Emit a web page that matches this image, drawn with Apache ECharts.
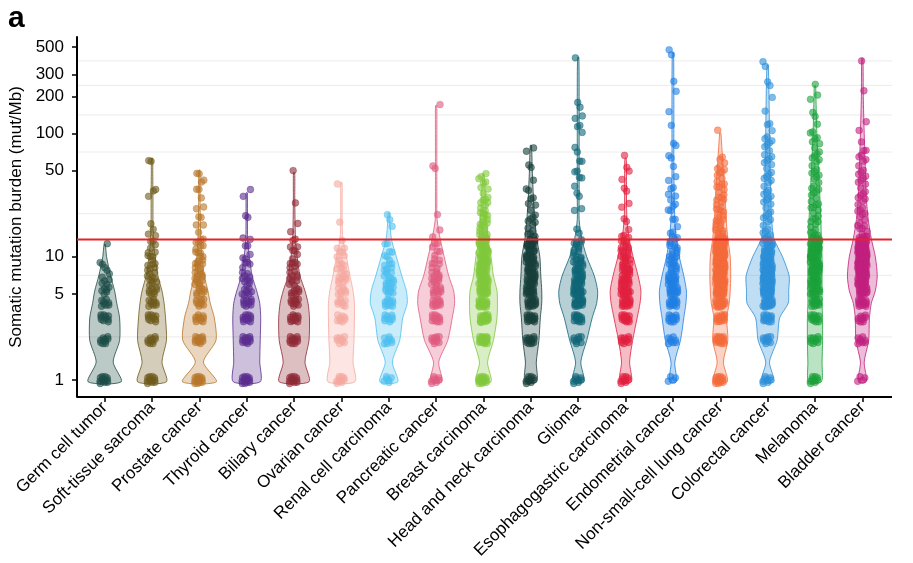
<!DOCTYPE html>
<html><head><meta charset="utf-8">
<script src="https://cdn.jsdelivr.net/npm/echarts@6/dist/echarts.min.js"></script>
<style>html,body{margin:0;padding:0;background:#fff}#chart{width:913px;height:563px}</style>
</head><body><div id="chart"></div>
<script>
const categories = ['Germ cell tumor','Soft-tissue sarcoma','Prostate cancer','Thyroid cancer','Biliary cancer','Ovarian cancer','Renal cell carcinoma','Pancreatic cancer','Breast carcinoma','Head and neck carcinoma','Glioma','Esophagogastric carcinoma','Endometrial cancer','Non-small-cell lung cancer','Colorectal cancer','Melanoma','Bladder cancer'];
const pointColors = ['#1d4d47','#6e5a1c','#b8762a','#5a2d8f','#8f2a36','#f5a9a0','#4dbff0','#e05a7e','#80c83c','#173f3b','#0f6577','#e1203f','#1f7fe3','#f36a3b','#2c8fd8','#1ba23a','#c1207f'];
const yTickValues = [1, 5, 10, 50, 100, 200, 300, 500];
const gridValues = [2.24, 7.07, 22.4, 70.7, 141, 245, 387];
const threshold = 13.8;
// discrete low values (mut/Mb) and number of samples at each
const levels = [1, 2.1, 3.15, 4.2, 5.25, 6.3, 7.35, 8.4, 9.45, 10.5, 11.55, 12.6, 13.65];
const levelCounts = [
  [12,10,10,8,6,4,3,2,1,0,0,1,0],
  [12,10,10,9,8,6,5,4,3,3,2,2,1],
  [14,12,10,9,8,7,6,5,4,3,3,2,2],
  [14,12,12,10,8,6,4,3,2,2,1,1,1],
  [12,12,12,10,8,6,5,4,3,2,2,1,1],
  [10,8,8,8,8,6,5,4,3,2,2,1,1],
  [6,8,10,12,10,8,6,4,3,2,1,1,1],
  [8,10,12,12,10,8,6,4,3,2,2,1,1],
  [15,18,20,20,18,16,14,12,10,9,8,7,6],
  [10,12,14,16,16,14,12,10,9,8,7,6,5],
  [8,8,14,18,20,16,12,8,6,4,3,3,2],
  [10,10,14,16,16,14,10,8,6,5,4,3,3],
  [4,8,12,14,14,12,8,6,5,4,4,3,3],
  [14,16,14,20,24,26,26,24,22,20,18,16,15],
  [8,10,14,24,30,32,28,20,14,10,8,6,5],
  [10,10,12,14,14,14,14,14,12,12,12,11,10],
  [4,8,10,14,18,20,22,22,20,18,16,14,12]
];
// individual higher values
const tailValues = [
  [],
  [14.7,15.5,16.4,19.8,31,33,35,57,63],
  [14.7,15.8,17,18.5,20,22,24,27,30,33,36,40,42,46,50.5],
  [14.5,20.5,23,31,33],
  [14.5,16,17.5,28,48],
  [18,40],
  [17.7,18.8,22.5],
  [14.5,15.5,22.5,50,57,168],
  [14.2,14.6,15.0,15.3,15.8,16.2,16.6,17.1,17.5,18.0,18.4,18.9,19.5,20.0,20.6,21.2,21.8,22.5,23.2,24.0,24.8,25.7,26.6,27.5,28.5,29.6,31.0,32.4,34.0,36.0,38.5,41.0,43.5,45.5,47.0],
  [14.2,14.8,15.4,16,16.6,17.2,18,18.8,19.6,20.5,21.5,22.5,24,25.5,27,29,31,34,38,42,50,57,69,80],
  [14.5,17,22.6,25.4,30,34.7,37,40.5,44.5,47,50.5,57.6,63,70,83,103,110,117,128,146,161,192,414],
  [14.5,15.5,16.5,18,20.6,24,28,33,38,42,46,53.7,63],
  [14.5,15.5,16.5,17.5,18.8,20.5,22.6,24.9,26,27.3,28.8,30,31.6,34.7,37,40.5,47.3,53.7,59,67,76,86,113,159,218,246,440,453],
  [14.1,14.4,14.8,15.1,15.5,15.9,16.2,16.6,17.0,17.4,17.9,18.3,18.8,19.3,19.8,20.3,20.9,21.5,22.1,22.7,23.4,24.1,24.8,25.6,26.4,27.2,28.1,29.0,30.0,31.0,32.1,33.2,34.4,35.6,36.9,38.3,39.8,41.3,43.0,44.7,46.5,48.4,50.4,52.5,54.8,57.2,59.8,62.5,101],
  [14.3,14.9,15.6,16.3,17.0,17.8,18.6,19.5,20.4,21.4,22.4,23.5,24.6,25.8,27.0,28.3,29.7,31.1,32.6,34.2,35.9,37.6,39.4,41.3,43.3,45.4,47.6,49.9,52.3,54.8,57.5,60.3,63.2,66.3,69.5,72.9,76.4,80.1,84.0,88.1,92.4,97.0,106,113,121,146,205,240,280,350,359],
  [14.2,14.7,15.2,15.7,16.3,16.9,17.5,18.1,18.8,19.5,20.2,21.0,21.8,22.6,23.5,24.4,25.4,26.4,27.5,28.6,29.8,31.0,32.3,33.7,35.1,36.6,38.2,39.9,41.7,43.6,45.6,47.7,49.9,52.2,54.6,57.2,59.9,62.8,65.8,69.0,72.4,76.0,79.8,83.8,88.0,94.0,100,107,118,128,150,180,212,243],
  [14.2,14.7,15.2,15.8,16.4,17.0,17.6,18.3,19.0,19.8,20.6,21.4,22.3,23.2,24.2,25.2,26.3,27.4,28.6,29.9,31.2,32.6,34.1,35.7,37.4,39.2,41.1,43.1,45.2,47.5,49.9,52.5,55.2,58.1,61.2,64.5,68.0,72.0,78.0,86.0,100,128,214,407]
];
// violin density (share of category band) at these values
const violinLevels = [0.97, 1.4, 2.1, 3.2, 4.2, 5.3, 7, 10, 14, 20, 30, 50, 100, 200, 500];
const violinWidths = [
  [0.70,0.36,0.63,0.63,0.51,0.42,0.25,0.08],
  [0.61,0.42,0.61,0.57,0.51,0.42,0.25,0.13,0.06,0.04,0.04,0.03],
  [0.72,0.17,0.70,0.63,0.46,0.36,0.21,0.11,0.06,0.04,0.03,0.03],
  [0.57,0.55,0.57,0.59,0.55,0.42,0.23,0.11,0.04,0.03,0.03],
  [0.63,0.46,0.63,0.65,0.59,0.46,0.25,0.13,0.06,0.04,0.03,0.03],
  [0.57,0.49,0.53,0.55,0.55,0.49,0.36,0.21,0.06,0.03,0.03,0.03],
  [0.38,0.15,0.46,0.59,0.78,0.74,0.55,0.32,0.11,0.04],
  [0.25,0.11,0.49,0.68,0.78,0.74,0.53,0.34,0.17,0.04,0.03,0.03,0.03,0.03],
  [0.32,0.17,0.42,0.57,0.59,0.57,0.42,0.32,0.19,0.13,0.08,0.03],
  [0.25,0.23,0.34,0.40,0.46,0.46,0.42,0.38,0.25,0.17,0.11,0.06],
  [0.25,0.11,0.36,0.59,0.78,0.82,0.68,0.36,0.15,0.04,0.04,0.04,0.04,0.04,0.04],
  [0.25,0.17,0.30,0.49,0.61,0.65,0.53,0.32,0.15,0.06,0.04,0.04],
  [0.15,0.08,0.32,0.46,0.55,0.57,0.46,0.27,0.15,0.08,0.06,0.04,0.04,0.04,0.04],
  [0.30,0.13,0.32,0.27,0.38,0.42,0.44,0.42,0.32,0.25,0.21,0.13,0.03],
  [0.27,0.08,0.40,0.51,0.87,0.89,0.91,0.63,0.27,0.17,0.13,0.11,0.08,0.06,0.04],
  [0.27,0.30,0.32,0.32,0.30,0.30,0.30,0.30,0.27,0.25,0.21,0.15,0.08,0.04],
  [0.17,0.08,0.27,0.30,0.38,0.55,0.63,0.55,0.38,0.25,0.17,0.13,0.08,0.04,0.04]
];

const FONT = "'Liberation Sans', Arial, Helvetica, sans-serif";
const Y_MIN = 0.73, Y_MAX = 605;

// build point data and per-category maxima
const pointData = [];
const violinTop = [];
categories.forEach((c, ci) => {
  let k = 0, mx = 0;
  levelCounts[ci].forEach((n, li) => {
    for (let m = 0; m < n; m++) { pointData.push([ci, levels[li], k++]); mx = Math.max(mx, levels[li]); }
  });
  tailValues[ci].forEach(v => { pointData.push([ci, v, k++]); mx = Math.max(mx, v); });
  violinTop.push(mx);
});

function hexA(hex, a) {
  const r = parseInt(hex.slice(1,3),16), g = parseInt(hex.slice(3,5),16), b = parseInt(hex.slice(5,7),16);
  return 'rgba(' + r + ',' + g + ',' + b + ',' + a + ')';
}

function renderViolin(params, api) {
  const ci = api.value(0);
  const band = api.size([1, 0], [ci, 1])[0];
  const w = violinWidths[ci];
  const top = violinTop[ci];
  const L = [], R = [];
  for (let j = 0; j < violinLevels.length && j < w.length; j++) {
    const lv = violinLevels[j];
    if (lv >= top) break;
    const p = api.coord([ci, lv]);
    const hw = w[j] * band / 2;
    R.push([p[0] + hw, p[1]]); L.push([p[0] - hw, p[1]]);
  }
  const pt = api.coord([ci, top]);
  R.push([pt[0] + 0.6, pt[1]]); L.push([pt[0] - 0.6, pt[1]]);
  const pts = R.concat(L.reverse());
  return {
    type: 'polygon',
    shape: { points: pts, smooth: 0.25 },
    style: { fill: hexA(pointColors[ci], 0.3), stroke: pointColors[ci], lineWidth: 0.8 }
  };
}

function renderPoint(params, api) {
  const ci = api.value(0), v = api.value(1), k = api.value(2);
  const band = api.size([1, 0], [ci, 1])[0];
  const p = api.coord([ci, v]);
  const u = (0.5 + k * 0.7548776662) % 1;
  const t = (0.5 + k * 0.5698402910) % 1;
  return {
    type: 'circle',
    shape: { cx: p[0] + (u - 0.5) * 2 * band * 0.1, cy: p[1] + (t - 0.5) * 8, r: 3.4 },
    style: { fill: hexA(pointColors[ci], 0.6), stroke: hexA(pointColors[ci], 0.75), lineWidth: 0.5 }
  };
}

function hLine(color, width) {
  return function (params, api) {
    const cs = params.coordSys;
    const y = api.coord([0, api.value(1)])[1];
    return { type: 'line', shape: { x1: cs.x - 4, y1: y, x2: cs.x + cs.width + 6, y2: y },
             style: { stroke: color, lineWidth: width } };
  };
}

const chart = echarts.init(document.getElementById('chart'), null, { renderer: 'canvas' });
chart.setOption({
  backgroundColor: '#fff',
  animation: false,
  grid: { left: 81, top: 37, width: 805, height: 360, containLabel: false, outerBoundsMode: 'none' },
  graphic: [{ type: 'text', left: 8, top: 4, style: { text: 'a', font: 'bold 30px ' + FONT, fill: '#000' } }],
  xAxis: {
    type: 'category', data: categories, boundaryGap: true,
    axisLine: { show: false },
    axisTick: { show: true, alignWithLabel: true, length: 5, lineStyle: { color: '#000', width: 1.5 } },
    axisLabel: { rotate: 45, interval: 0, fontSize: 17, color: '#000', margin: 8, fontFamily: FONT },
    splitLine: { show: false }
  },
  yAxis: {
    type: 'log', logBase: 10, min: Y_MIN, max: Y_MAX, offset: 4,
    name: 'Somatic mutation burden (mut/Mb)', nameLocation: 'middle', nameGap: 50,
    nameTextStyle: { fontSize: 17, color: '#000', fontFamily: FONT },
    axisLine: { show: true, lineStyle: { color: '#000', width: 2 } },
    axisTick: { show: true, length: 5, customValues: yTickValues, lineStyle: { color: '#000', width: 1.5 } },
    axisLabel: { customValues: yTickValues, fontSize: 17, color: '#000', margin: 13, fontFamily: FONT },
    splitLine: { show: false }, minorSplitLine: { show: false }
  },
  series: [
    { type: 'custom', name: 'grid', z: 0, silent: true, renderItem: hLine('#ececec', 1),
      encode: { x: 0, y: 1 }, data: gridValues.map(v => [0, v]) },
    { type: 'custom', name: 'violin', z: 2, silent: true, renderItem: renderViolin,
      encode: { x: 0, y: 1 }, data: categories.map((c, i) => [i, 1]) },
    { type: 'custom', name: 'points', z: 3, silent: true, renderItem: renderPoint,
      encode: { x: 0, y: 1 }, data: pointData },
    { type: 'custom', name: 'baseline', z: 8, silent: true, renderItem: hLine('#000', 2),
      encode: { x: 0, y: 1 }, data: [[0, Y_MIN]] },
    { type: 'custom', name: 'threshold', z: 9, silent: true, renderItem: hLine('#e3242b', 2),
      encode: { x: 0, y: 1 }, data: [[0, threshold]] }
  ]
});
</script></body></html>
